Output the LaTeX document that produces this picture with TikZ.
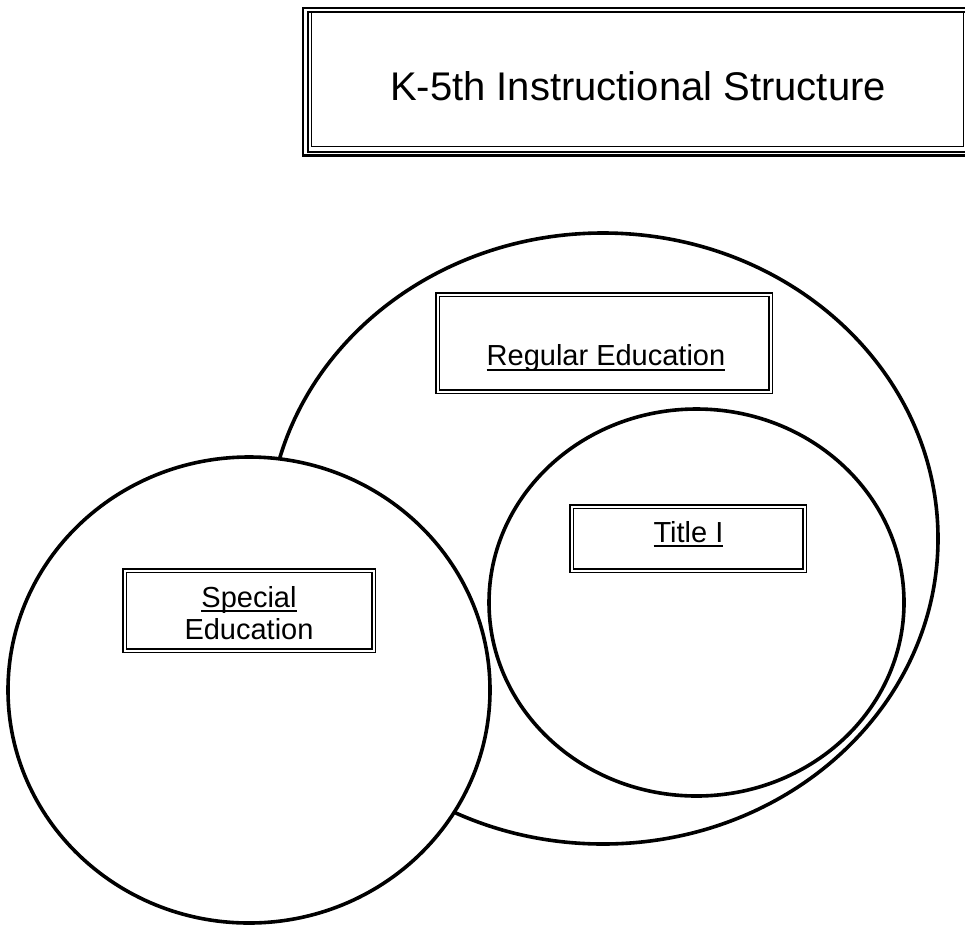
\documentclass[tikz,border=0pt]{standalone}
\usepackage{fontspec}
\setmainfont{Liberation Sans}
\usetikzlibrary{shapes.geometric}
\newcommand\myul[1]{\setbox0\hbox{#1}\rlap{\rule[-5pt]{\wd0}{2pt}}\box0}
\begin{document}
\begin{tikzpicture}[x=1pt,y=-1pt,
  ring/.style={ellipse, draw=black, line width=3.6pt, inner sep=0pt, outer sep=0pt},
  dblbox/.style={rectangle, draw=black, double=white, line width=1.6pt, double distance=2pt, inner sep=0pt},
  lbl/.style={anchor=base, inner sep=0pt, font=\fontsize{29}{32}\selectfont},
  ttl/.style={anchor=base, inner sep=0pt, font=\fontsize{40}{48}\selectfont}]
\useasboundingbox (0,0) rectangle (965,926);
\clip (0,0) rectangle (965,926);
% title frame
\draw[line width=2.6pt] (303,8) rectangle (990,155.5);
\draw[line width=2pt] (307.5,11.5) rectangle (975,151.5);
\draw[line width=1.3pt] (311.5,11.5) rectangle (963.5,146.5);
\node[ttl] (title) at (638,100) {K-5th Instructional Structure};
% circles
\node[ring, minimum width=670pt, minimum height=611pt] (regular) at (603,538.5) {};
\node[ring, minimum width=415pt, minimum height=387pt] (titleone) at (696.5,602.5) {};
\node[ring, fill=white, minimum width=482pt, minimum height=466pt] (special) at (249,690) {};
% label boxes
\node[dblbox, minimum width=333pt, minimum height=97pt] (regbox) at (604,343) {};
\node[dblbox, minimum width=233pt, minimum height=64pt] (tibox) at (688,538.5) {};
\node[dblbox, minimum width=249pt, minimum height=80pt] (spbox) at (249,610.5) {};
% labels
\node[lbl] (reglbl) at (606,365.5) {\myul{Regular Education}};
\node[lbl] (tilbl) at (688.5,542) {\myul{Title I}};
\node[lbl] (splbla) at (249,607) {\myul{Special}};
\node[lbl] (splblb) at (249,639) {Education};
\end{tikzpicture}
\end{document}
